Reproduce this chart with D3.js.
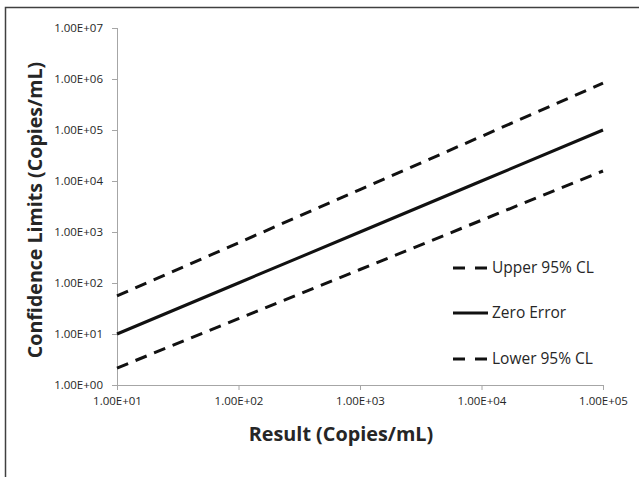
<!DOCTYPE html>
<html>
<head>
<meta charset="utf-8">
<script src="https://cdn.jsdelivr.net/npm/d3@7"></script>
<style>
  html, body { margin: 0; padding: 0; background: #fff; }
  svg { display: block; }
</style>
</head>
<body>
<svg id="chart" width="639" height="477"></svg>
<script>
// Result values (x) and the limits computed at each one
const results = [10, 100, 1000, 10000, 100000];
const zeroError = [10, 100, 1000, 10000, 100000];
const upperCL = [56, 615, 6800, 75000, 830000];
const lowerCL = [2.15, 20, 184, 1700, 15700];

const xTicks = [1e1, 1e2, 1e3, 1e4, 1e5];
const yTicks = [1e0, 1e1, 1e2, 1e3, 1e4, 1e5, 1e6, 1e7];

const seriesNames = ["Upper 95% CL", "Zero Error", "Lower 95% CL"];

const FONT = "'Open Sans', 'DejaVu Sans', sans-serif";
const svg = d3.select("#chart");

// outer chart frame (continues past the right and bottom edges)
svg.append("rect")
  .attr("x", 5.5).attr("y", 7.5)
  .attr("width", 700).attr("height", 500)
  .attr("fill", "#fff")
  .attr("stroke", "#404040")
  .attr("stroke-width", 1.5);

const plot = { left: 117, right: 603, top: 28, bottom: 385 };

const x = d3.scaleLog().domain([1e1, 1e5]).range([plot.left, plot.right]);
const y = d3.scaleLog().domain([1e0, 1e7]).range([plot.bottom, plot.top]);

// scientific labels like 1.00E+03
const sci = d => {
  const e = Math.floor(Math.log10(d) + 1e-9);
  const m = d / Math.pow(10, e);
  const sign = e < 0 ? "-" : "+";
  return m.toFixed(2) + "E" + sign + String(Math.abs(e)).padStart(2, "0");
};

const axisColor = "#a6a6a6";
const tickTextColor = "#262626";

const yAxis = svg.append("g")
  .attr("transform", `translate(${plot.left},0)`)
  .call(d3.axisLeft(y).tickValues(yTicks).tickFormat(sci).tickSizeOuter(0).tickSize(5).tickPadding(9));

const xAxis = svg.append("g")
  .attr("transform", `translate(0,${plot.bottom})`)
  .call(d3.axisBottom(x).tickValues(xTicks).tickFormat(sci).tickSizeOuter(0).tickSize(5).tickPadding(7));

[yAxis, xAxis].forEach(g => {
  g.select(".domain").attr("stroke", axisColor).attr("stroke-width", 1);
  g.selectAll(".tick line").attr("stroke", axisColor);
  g.selectAll(".tick text")
    .attr("fill", tickTextColor)
    .style("font-family", FONT)
    .style("font-size", "11.5px");
});
// y axis domain extends from bottom to top tick
yAxis.select(".domain").attr("d", `M0.5,${plot.bottom}V${plot.top}`);

// series lines
const line = d3.line()
  .x((d, i) => x(results[i]))
  .y(d => y(d));

const series = [
  { name: seriesNames[0], values: upperCL, dash: "12,8" },
  { name: seriesNames[1], values: zeroError, dash: null },
  { name: seriesNames[2], values: lowerCL, dash: "12,8" }
];

svg.append("g").selectAll("path")
  .data(series)
  .join("path")
  .attr("d", d => line(d.values))
  .attr("fill", "none")
  .attr("stroke", "#111")
  .attr("stroke-width", 3)
  .attr("stroke-dasharray", d => d.dash);

// legend
const legendY = [268, 313, 359];
const legend = svg.append("g");
series.forEach((s, i) => {
  legend.append("line")
    .attr("x1", 453).attr("x2", 488)
    .attr("y1", legendY[i]).attr("y2", legendY[i])
    .attr("stroke", "#111")
    .attr("stroke-width", 3)
    .attr("stroke-dasharray", s.dash ? "12,10" : null);
  legend.append("text")
    .attr("x", 492).attr("y", legendY[i])
    .attr("dy", "0.35em")
    .attr("fill", "#262626")
    .style("font-family", FONT)
    .style("font-size", "15.5px")
    .text(s.name);
});

// axis titles
svg.append("text")
  .attr("x", 341).attr("y", 441)
  .attr("text-anchor", "middle")
  .attr("fill", "#262626")
  .style("font-family", FONT)
  .style("font-weight", "bold")
  .style("font-size", "19.8px")
  .text("Result (Copies/mL)");

svg.append("text")
  .attr("transform", "translate(42,210) rotate(-90)")
  .attr("text-anchor", "middle")
  .attr("fill", "#262626")
  .style("font-family", FONT)
  .style("font-weight", "bold")
  .style("font-size", "19.6px")
  .text("Confidence Limits (Copies/mL)");
</script>
</body>
</html>
